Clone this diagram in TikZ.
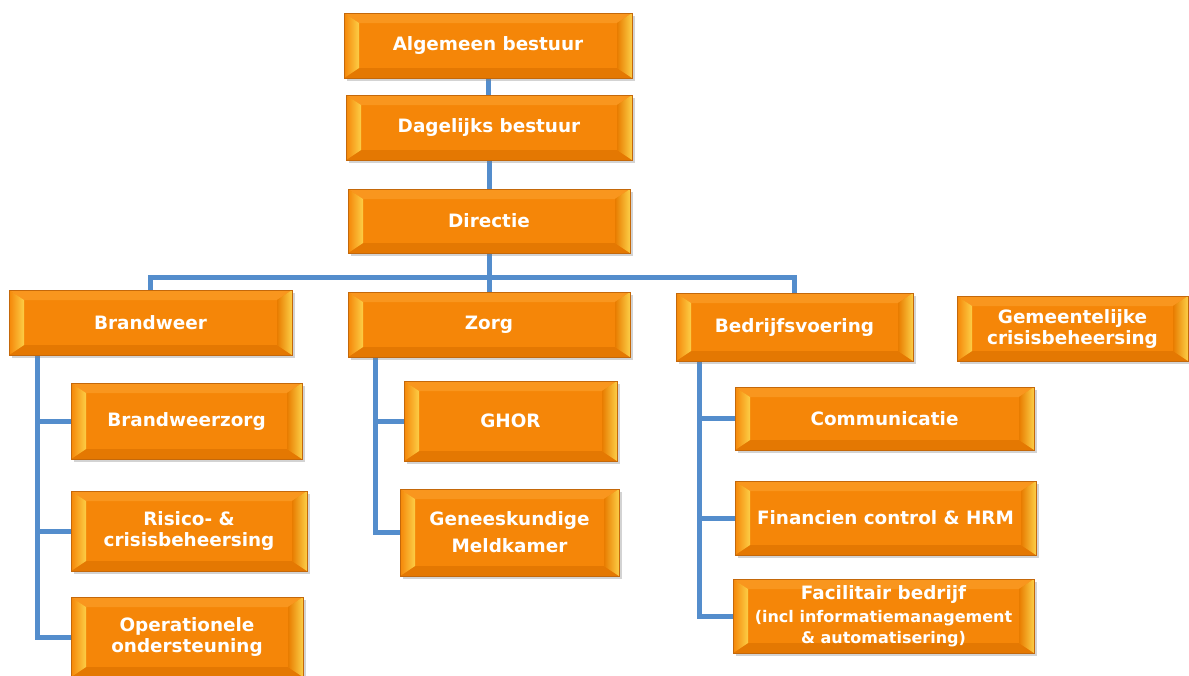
\documentclass[tikz,border=0pt]{standalone}
\usepackage{fontspec}
\setmainfont{DejaVu Sans}
\usetikzlibrary{shadows}
\definecolor{boxorange}{RGB}{245,134,8}
\definecolor{boxedge}{RGB}{196,104,10}
\definecolor{bevtopc}{RGB}{249,150,30}
\definecolor{bevbotc}{RGB}{228,120,2}
\definecolor{bevyel}{RGB}{252,206,70}
\definecolor{bevdark}{RGB}{232,124,0}
\definecolor{linkblue}{RGB}{84,141,204}
\pgfdeclarelayer{bg}
\pgfsetlayers{bg,main}
\tikzset{
  bevel/.style={path picture={
    \path (path picture bounding box.north west) coordinate (pa)
          (path picture bounding box.north east) coordinate (pb)
          (path picture bounding box.south east) coordinate (pc)
          (path picture bounding box.south west) coordinate (pd)
          ([shift={(15pt,-10pt)}]path picture bounding box.north west) coordinate (pe)
          ([shift={(-15pt,-10pt)}]path picture bounding box.north east) coordinate (pf)
          ([shift={(-15pt,10pt)}]path picture bounding box.south east) coordinate (pg)
          ([shift={(15pt,10pt)}]path picture bounding box.south west) coordinate (ph);
    \fill[bevtopc] (pa) -- (pb) -- (pf) -- (pe) -- cycle;
    \fill[bevbotc] (pd) -- (pc) -- (pg) -- (ph) -- cycle;
    \shade[left color=boxorange, right color=bevyel] (pa) -- (pe) -- (ph) -- (pd) -- cycle;
    \shade[left color=bevdark, right color=bevyel] (pb) -- (pf) -- (pg) -- (pc) -- cycle;
  }},
  orgbox/.style={rectangle, fill=boxorange, draw=boxedge, line width=0.8pt,
    bevel, drop shadow={opacity=0.35, shadow xshift=3pt, shadow yshift=-3pt},
    text=white, align=center, inner sep=0pt,
    font=\fontsize{18.4}{21}\selectfont\bfseries},
  link/.style={draw=linkblue, line width=5pt}
}
\begin{document}
\begin{tikzpicture}[x=1pt,y=-1pt]
\useasboundingbox (0,0) rectangle (1189,675);
\node[orgbox, minimum width=288pt, minimum height=65pt] (alg) at (488,45.5) {Algemeen bestuur};
\node[orgbox, minimum width=286pt, minimum height=65pt] (dag) at (489,127.5) {Dagelijks bestuur};
\node[orgbox, minimum width=282pt, minimum height=64pt] (dir) at (489,221) {Directie};
\node[orgbox, minimum width=283pt, minimum height=65pt] (brw) at (150.5,322.5) {Brandweer};
\node[orgbox, minimum width=282pt, minimum height=65pt] (zorg) at (489,324.5) {Zorg};
\node[orgbox, minimum width=237pt, minimum height=68pt] (bedr) at (794.5,327) {Bedrijfsvoering};
\node[orgbox, minimum width=231pt, minimum height=65pt] (gem) at (1072.5,328.5) {Gemeentelijke\\crisisbeheersing};
\node[orgbox, minimum width=231pt, minimum height=76pt] (bwz) at (186.5,421) {Brandweerzorg};
\node[orgbox, minimum width=236pt, minimum height=80pt] (ris) at (189,531) {Risico- \&\\crisisbeheersing};
\node[orgbox, minimum width=232pt, minimum height=80pt] (ops) at (187,637) {Operationele\\ondersteuning};
\node[orgbox, minimum width=213pt, minimum height=80pt] (ghor) at (510.5,421) {GHOR};
\node[orgbox, minimum width=219pt, minimum height=87pt, font=\fontsize{18.4}{27}\selectfont\bfseries] (gen) at (509.5,532.5) {Geneeskundige\\Meldkamer};
\node[orgbox, minimum width=299pt, minimum height=63pt] (com) at (884.5,418.5) {Communicatie};
\node[orgbox, minimum width=301pt, minimum height=74pt] (fin) at (885.5,518) {Financien control \& HRM};
\node[orgbox, minimum width=301pt, minimum height=74pt] (fac) at (883.5,616) {Facilitair bedrijf\\[2pt]{\fontsize{16}{23}\selectfont(incl informatiemanagement}\\{\fontsize{16}{23}\selectfont\& automatisering)}};
\begin{pgfonlayer}{bg}
\draw[link] (alg.south) -- (alg.south |- dag.north);
\draw[link] (dag.south) -- (dir.north);
\draw[link] (dir.south) -- (zorg.north);
\draw[link] (dir.south) -- ++(0pt,-24pt) coordinate (bus) -| (brw.north);
\draw[link] (bus) -| (bedr.north);
\draw[link] ([xshift=29pt]brw.south west) |- (ops.west);
\draw[link] ([xshift=29pt]brw.south west) |- (bwz.west);
\draw[link] ([xshift=29pt]brw.south west) |- (ris.west);
\draw[link] ([xshift=28pt]zorg.south west) |- (gen.west);
\draw[link] ([xshift=28pt]zorg.south west) |- (ghor.west);
\draw[link] ([xshift=24pt]bedr.south west) |- (fac.west);
\draw[link] ([xshift=24pt]bedr.south west) |- (com.west);
\draw[link] ([xshift=24pt]bedr.south west) |- (fin.west);
\end{pgfonlayer}
\end{tikzpicture}
\end{document}
